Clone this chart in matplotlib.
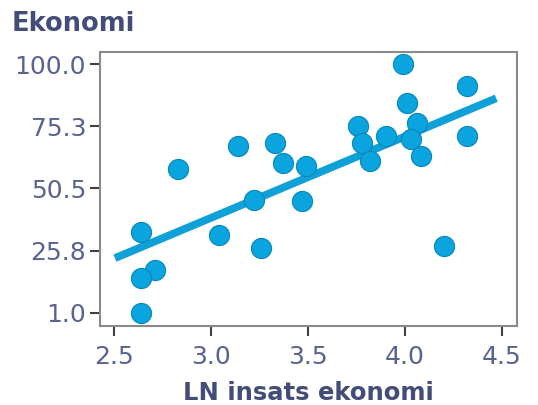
import numpy as np
import matplotlib
matplotlib.use("Agg")
from matplotlib import pyplot as plt

# data
ln_insats = [3.99, 4.32, 4.01, 4.06, 4.32, 3.76, 3.90, 4.03, 3.78, 4.08,
             3.82, 3.14, 3.33, 3.37, 3.49, 2.83, 3.22, 3.47, 2.64, 3.04,
             3.26, 4.20, 2.71, 2.64, 2.64]
ekonomi = [100.0, 91.2, 84.4, 76.4, 71.3, 75.3, 71.3, 70.1, 68.5, 63.3,
           61.3, 67.3, 68.5, 60.5, 59.3, 58.1, 46.1, 45.7, 33.3, 32.1,
           27.0, 27.7, 18.2, 15.0, 1.0]
fit_range = [2.505, 4.47]
xticks = [2.5, 3.0, 3.5, 4.0, 4.5]
yticks = [1.0, 25.8, 50.5, 75.3, 100.0]

label_col = "#5a6290"
title_col = "#444c78"
dot_col = "#0aa4de"
line_col = "#10a0d8"

fig = plt.figure(figsize=(5.38, 4.05), dpi=100)
ax = fig.add_axes([100/538, 1 - 326/405, 417/538, 274/405])

slope, icpt = np.polyfit(ln_insats, ekonomi, 1)
fx = np.array(fit_range)
ax.plot(fx, icpt + slope*fx, color=line_col, lw=5.6, solid_capstyle="butt", zorder=2)
ax.plot(ln_insats, ekonomi, "o", ms=14.5, color=dot_col, mec="#0b86b8", mew=0.8, zorder=3)

ax.set_xlim(2.428, 4.577)
ax.set_ylim(-4.2, 104.8)
ax.set_xticks(xticks)
ax.set_xticklabels(["%.1f" % v for v in xticks])
ax.set_yticks(yticks)
ax.set_yticklabels(["%.1f" % v for v in yticks])

for s in ax.spines.values():
    s.set_color("#8a8a8a")
    s.set_linewidth(1.5)
ax.tick_params(axis="both", length=7, width=1.5, color="#404040",
               labelcolor=label_col, labelsize=18)
ax.tick_params(axis="x", pad=7)
ax.tick_params(axis="y", pad=3)

fig.text(12/538, 1 - 11/405, "Ekonomi", ha="left", va="top",
         fontsize=18.5, fontweight="bold", color=title_col)
ax.set_xlabel("LN insats ekonomi", fontsize=17.5, fontweight="bold",
              color=title_col, labelpad=8)

fig.savefig("out.png", dpi=100)
